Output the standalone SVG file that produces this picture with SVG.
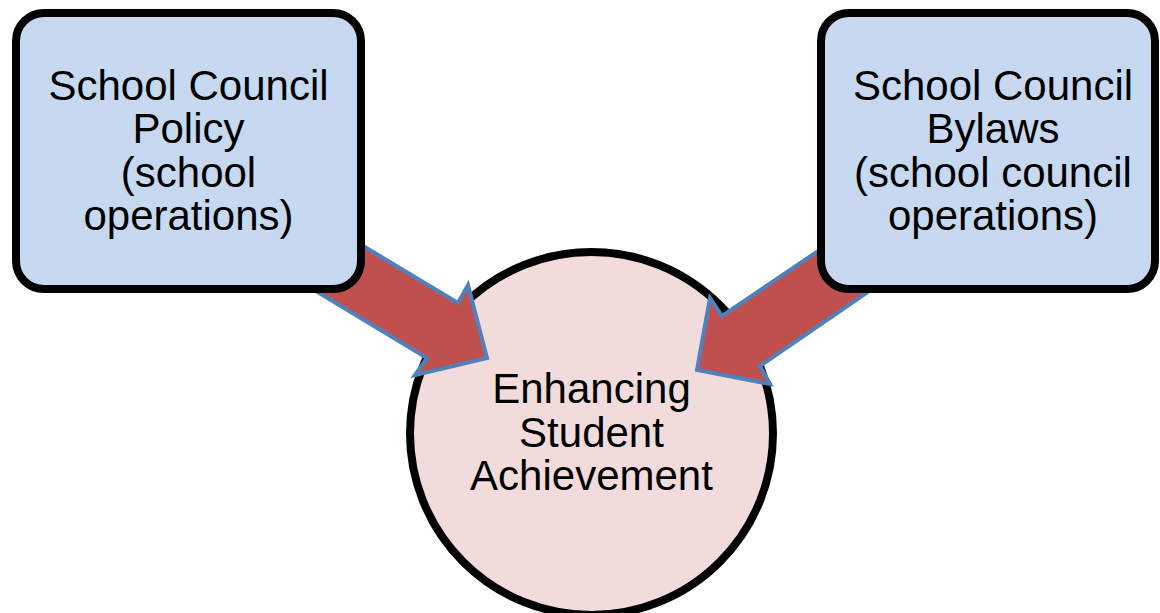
<svg xmlns="http://www.w3.org/2000/svg" width="1160" height="613" viewBox="0 0 1160 613">
<style>
.box{fill:#C6D9F1;stroke:#000;stroke-width:8}
.circ{fill:#F2DCDB;stroke:#000;stroke-width:8}
.arrow{fill:#C0504D;stroke:#4F81BD;stroke-width:4;stroke-linejoin:miter}
text{font-family:"Liberation Sans",Arial,sans-serif;font-size:42px;fill:#000;text-anchor:middle}
</style>
<rect width="1160" height="613" fill="#fff"/>
<g id="achievement">
<circle class="circ" cx="591.5" cy="433.5" r="181.5"/>
<text x="591.5" y="403">Enhancing</text>
<text x="591.5" y="446.5">Student</text>
<text x="591.5" y="490">Achievement</text>
</g>
<g id="connectors">
<polygon class="arrow" points="280,196 458,303 468,285 487,358 415,375 427,358 248,250"/>
<polygon class="arrow" points="867,218 722,316 710,298 697,370 770,384 760,366 913,261"/>
</g>
<g id="policy">
<rect class="box" x="16" y="13" width="345" height="276" rx="28" ry="28"/>
<text x="188.5" y="99.5">School Council</text>
<text x="188.5" y="143">Policy</text>
<text x="188.5" y="186.5">(school</text>
<text x="188.5" y="230">operations)</text>
</g>
<g id="bylaws">
<rect class="box" x="821" y="13" width="334" height="276" rx="28" ry="28"/>
<text x="993" y="99.5">School Council</text>
<text x="993" y="143">Bylaws</text>
<text x="993" y="186.5">(school council</text>
<text x="993" y="230">operations)</text>
</g>
</svg>
